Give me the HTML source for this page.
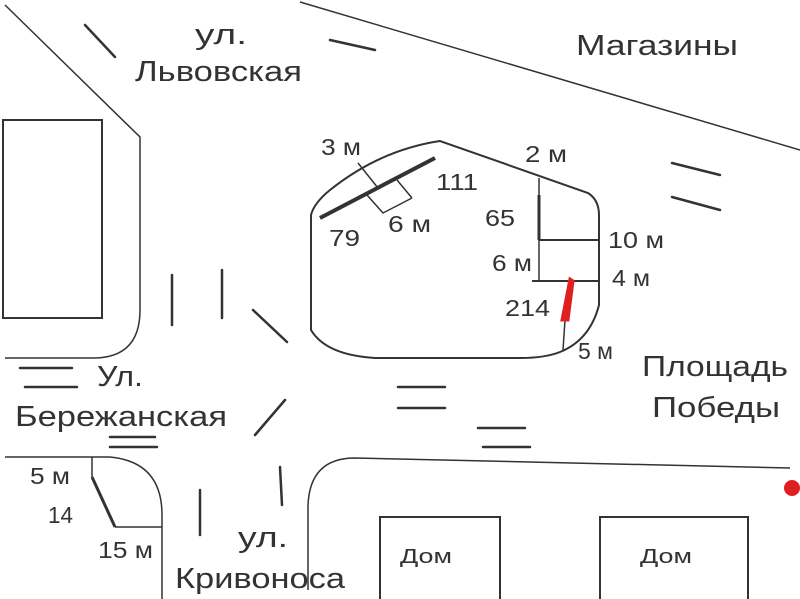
<!DOCTYPE html>
<html><head><meta charset="utf-8"><style>
html,body{margin:0;padding:0;background:#fff;}
svg{display:block;}
text{font-family:"Liberation Sans",sans-serif;fill:#333;}
</style></head><body>
<svg width="800" height="599" viewBox="0 0 800 599" xmlns="http://www.w3.org/2000/svg">
<g fill="none" stroke="#333" stroke-width="2">
<path d="M5,5 L140,137 L140,310 Q140,357 95,358 L5,358" stroke-width="1.5"/>
<rect x="3" y="120" width="99" height="198"/>
<path d="M300,2 L800,150" stroke-width="1.5"/>
<path d="M311,330 L311,215 Q314,203 330,190 Q380,150 440,141 L588,193 Q599,200 599,215 L599,305 Q590,340 560,352 Q545,358 520,358 L375,358 Q326,355 311,330 Z"/>
<path d="M308,590 L308,505 Q310,458 355,458 L790,468" stroke-width="1.5"/>
<path d="M5,457 L110,457 Q162,462 162,515 L162,599" stroke-width="1.5"/>
<rect x="380" y="517" width="120" height="85"/>
<rect x="600" y="517" width="148" height="85"/>
<path d="M320,218 L435,158" stroke-width="4"/>
<path d="M358,163 L378,188 M397,180 L412,198 M367,195 L383,213 L412,198" stroke-width="1.5"/>
<path d="M539,178 L539,281" stroke-width="1.5"/>
<path d="M539,195 L539,240" stroke-width="3"/>
<path d="M539,240 L599,240 M532,281 L599,281" stroke-width="2"/>
<path d="M565,320 L563,350" stroke-width="1.5"/>
<path d="M92,457 L92,477 M115,527 L162,527" stroke-width="1.5"/>
<path d="M92,477 L115,527" stroke-width="3"/>
<g stroke-width="2.5" stroke-linecap="round">
<path d="M85,25 L115,57 M330,40 L375,50 M672,163 L720,175 M672,197 L720,210 M172,275 L172,325 M222,270 L222,318 M253,310 L287,342 M20,368 L72,368 M25,387 L77,387 M110,437 L155,437 M110,447 L157,447 M255,435 L285,400 M200,490 L200,535 M280,467 L282,505 M398,387 L445,387 M398,408 L445,408 M478,428 L525,428 M483,447 L530,447"/>
</g>
</g>
<path d="M570,279 L573,281 L568,320 L562,320 Z" fill="#e02020" stroke="#e02020" stroke-width="3"/>
<circle cx="792" cy="488" r="8" fill="#e02020"/>
<g font-size="23">
<text x="321" y="155" textLength="40" lengthAdjust="spacingAndGlyphs">3 м</text>
<text x="525" y="162" textLength="42" lengthAdjust="spacingAndGlyphs">2 м</text>
<text x="436" y="190" textLength="42" lengthAdjust="spacingAndGlyphs">111</text>
<text x="329" y="246" textLength="31" lengthAdjust="spacingAndGlyphs">79</text>
<text x="388" y="232" textLength="43" lengthAdjust="spacingAndGlyphs">6 м</text>
<text x="485" y="226" textLength="30" lengthAdjust="spacingAndGlyphs">65</text>
<text x="608" y="248" textLength="56" lengthAdjust="spacingAndGlyphs">10 м</text>
<text x="492" y="271" textLength="40" lengthAdjust="spacingAndGlyphs">6 м</text>
<text x="612" y="286" textLength="38" lengthAdjust="spacingAndGlyphs">4 м</text>
<text x="505" y="316" textLength="45" lengthAdjust="spacingAndGlyphs">214</text>
<text x="578" y="359" textLength="35" lengthAdjust="spacingAndGlyphs">5 м</text>
<text x="30" y="484" textLength="40" lengthAdjust="spacingAndGlyphs">5 м</text>
<text x="48" y="523" textLength="25" lengthAdjust="spacingAndGlyphs">14</text>
<text x="98" y="558" textLength="55" lengthAdjust="spacingAndGlyphs">15 м</text>
</g>
<g font-size="29">
<text x="195" y="44" textLength="52" lengthAdjust="spacingAndGlyphs">ул.</text>
<text x="135" y="81" textLength="167" lengthAdjust="spacingAndGlyphs">Львовская</text>
<text x="576" y="55" textLength="162" lengthAdjust="spacingAndGlyphs">Магазины</text>
<text x="97" y="386" textLength="46" lengthAdjust="spacingAndGlyphs">Ул.</text>
<text x="15" y="426" textLength="212" lengthAdjust="spacingAndGlyphs">Бережанская</text>
<text x="642" y="376" textLength="146" lengthAdjust="spacingAndGlyphs">Площадь</text>
<text x="652" y="417" textLength="128" lengthAdjust="spacingAndGlyphs">Победы</text>
<text x="238" y="547" textLength="50" lengthAdjust="spacingAndGlyphs">ул.</text>
<text x="175" y="588" textLength="170" lengthAdjust="spacingAndGlyphs">Кривоноса</text>
</g>
<g font-size="20">
<text x="400" y="563" textLength="52" lengthAdjust="spacingAndGlyphs">Дом</text>
<text x="640" y="563" textLength="52" lengthAdjust="spacingAndGlyphs">Дом</text>
</g>
</svg>
</body></html>
